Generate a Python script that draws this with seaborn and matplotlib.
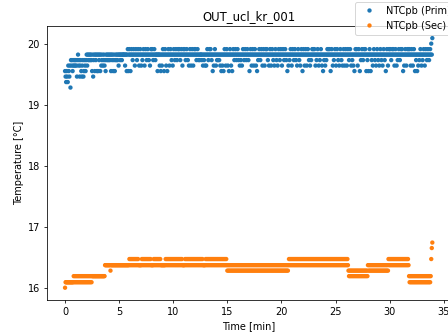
import numpy as np
import pandas as pd
import matplotlib
matplotlib.use("Agg")
import matplotlib.pyplot as plt
import seaborn as sns

TITLE = "OUT_ucl_kr_001"
SERIES = ["NTCpb (Prim)", "NTCpb (Sec)"]
COLORS = ["#1f77b4", "#ff7f0e"]
SAMPLE_MIN = 0.05  # sampling interval [min]

# quantised temperature levels [°C]
BLUE_LEVELS = [19.28, 19.37, 19.46, 19.55, 19.64, 19.73, 19.82, 19.91, 20.00, 20.09]
ORANGE_LEVELS = [16.00, 16.09, 16.19, 16.28, 16.37, 16.47, 16.56, 16.65, 16.74]

# level index per sample, one string per minute (20 samples each)
BLUE_CODES = [
    "32132143240545345454", "54256452453245235435", "64656565653625636563",
    "63656364564564536565", "65656365635635656564", "66566566666466367367",
    "63676567646765676467", "64656764676567656467", "67656765666366646364",
    "67636764636764676564", "67656765676765676467", "67656765646764676467",
    "67656765656665646564", "64676567676563646764", "65656564636463676467",
    "64636764636765676567", "65646564676567656765", "63676467646764636567",
    "65676467646767656467", "64676564676564676567", "64676567656364656764",
    "67656765646765646763", "67646764676564656767", "67646567646567646365",
    "64656767676367646567", "64676564676564676467", "64676567646564636767",
    "64676365676567676365", "63676365646765646765", "64676564676563676467",
    "67656767646764656765", "67676364676467676764", "67646763656364656764",
    "65676467656765676869",
]
ORANGE_CODES = [
    "01111111111111112121", "21212121212121212121", "21212121212222222222",
    "22222222222222444444", "44443444444444444444", "44444444444444444445",
    "45454545454545454444", "44545454545454545454", "44445454545454545444",
    "44444454545454545454", "54545454545454545444", "44545454545454545454",
    "54545454545454544444", "54545454545454545454", "54545454545454545454",
    "34343434343434343434", "34343434343434343434", "34343434343434343434",
    "34343434343434343434", "34343434343434343434", "34343434343434545454",
    "54545454545454545454", "54545454545454545454", "54545454545454545454",
    "54545454545454545454", "54545454545454545454", "54543232323232323232",
    "32323232323232323232", "43434343434343434343", "43434343434343434354",
    "54545454545454545454", "54545454545454542121", "21212121212121212121",
    "21212121212121212578",
]


def decode(codes, levels):
    s = "".join(codes)
    return [levels[int(c)] for c in s]


blue_vals = decode(BLUE_CODES, BLUE_LEVELS)
orange_vals = decode(ORANGE_CODES, ORANGE_LEVELS)

frames = []
for name, vals in zip(SERIES, [blue_vals, orange_vals]):
    t = np.arange(len(vals)) * SAMPLE_MIN
    frames.append(pd.DataFrame({"Time [min]": t, "Temperature [°C]": vals, "series": name}))
df = pd.concat(frames, ignore_index=True)

W, H, DPI = 448, 334, 70
fig = plt.figure(figsize=(W / DPI, H / DPI), dpi=DPI)
ax = fig.add_axes([0.1042, 0.1012, 0.9018, 0.822])
sns.scatterplot(data=df, x="Time [min]", y="Temperature [°C]", hue="series",
                palette=COLORS, s=20, linewidth=0, ax=ax, legend=True)
ax.set_title(TITLE)
ax.set_xticks([0, 5, 10, 15, 20, 25, 30, 35])
ax.set_yticks([16, 17, 18, 19, 20])
ax.legend(title=None, loc="upper left", bbox_to_anchor=(355 / W, 1 - 2 / H),
          bbox_transform=fig.transFigure, borderaxespad=0)
fig.savefig("out.png", dpi=DPI)
